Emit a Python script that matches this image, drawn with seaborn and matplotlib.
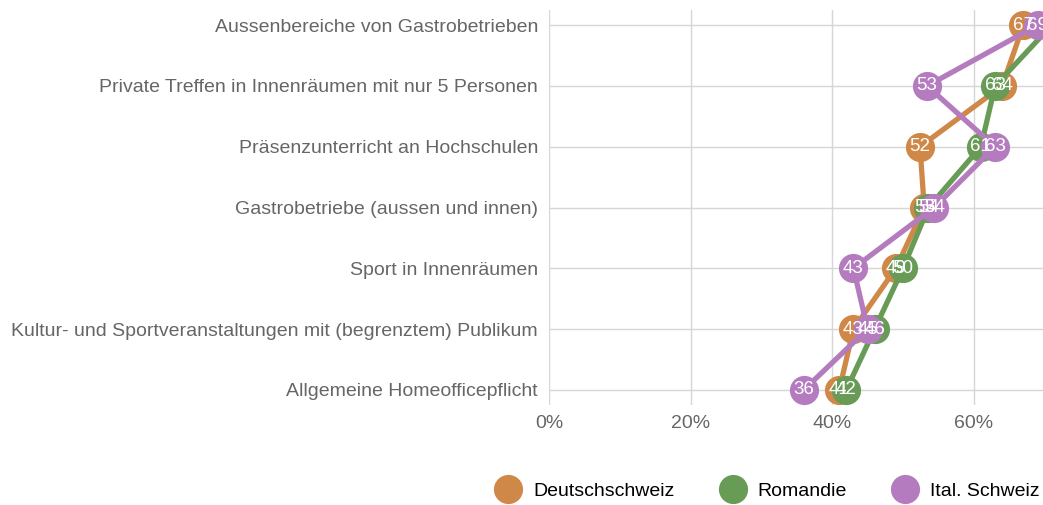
import pandas as pd
import matplotlib.pyplot as plt
from matplotlib.lines import Line2D
import seaborn as sns

# data (share of respondents, %)
categories = ["Aussenbereiche von Gastrobetrieben",
              "Private Treffen in Innenräumen mit nur 5 Personen",
              "Präsenzunterricht an Hochschulen",
              "Gastrobetriebe (aussen und innen)",
              "Sport in Innenräumen",
              "Kultur- und Sportveranstaltungen mit (begrenztem) Publikum",
              "Allgemeine Homeofficepflicht"]
deutschschweiz = [67, 64, 52.4, 53, 49, 43, 41]
romandie = [71, 63, 61, 53.6, 50, 46, 42]
ital_schweiz = [69, 53.4, 63, 54.4, 43, 45, 36]
regions = ["Deutschschweiz", "Romandie", "Ital. Schweiz"]
colors = ["#cf8848", "#689b55", "#b47cbf"]

rows = []
for reg, vals in zip(regions, [deutschschweiz, romandie, ital_schweiz]):
    for i, v in enumerate(vals):
        rows.append({"region": reg, "pos": i, "value": v})
df = pd.DataFrame(rows)

sns.set_theme(style="white")
plt.rcParams['font.family'] = ['Liberation Sans', 'DejaVu Sans']

fig = plt.figure(figsize=(10.43, 5.05), dpi=100)
# axes runs past the right edge like in the cropped original
ax = fig.add_axes([549 / 1043, 1 - 405 / 505, 708 / 1043, 395 / 505])

sns.lineplot(data=df, x="value", y="pos", hue="region", hue_order=regions,
             palette=colors, sort=False, estimator=None, orient="y",
             linewidth=3.8, marker="o", markersize=21, markeredgewidth=0,
             legend=False, ax=ax, zorder=3)

# value labels on top of all markers
for reg, vals in zip(regions, [deutschschweiz, romandie, ital_schweiz]):
    for i, v in enumerate(vals):
        ax.text(v, i, f"{round(v)}", color="white", fontsize=13.5,
                ha="center", va="center", zorder=5)

ax.set_xlim(0, 100)
ax.set_ylim(6.25, -0.25)
ax.set_xticks([0, 20, 40, 60, 80, 100])
ax.set_xticklabels([f"{t}%" for t in [0, 20, 40, 60, 80, 100]])
ax.set_yticks(range(len(categories)))
ax.set_yticklabels(categories)
ax.set_xlabel("")
ax.set_ylabel("")
ax.grid(True, color="#d6d6d6", linewidth=1)
ax.set_axisbelow(True)
for s in ax.spines.values():
    s.set_visible(False)
ax.tick_params(axis="both", length=0, labelsize=14, colors="#666666")
ax.tick_params(axis="y", pad=8)
ax.tick_params(axis="x", pad=7)

handles = [Line2D([], [], marker="o", linestyle="", markersize=21,
                  markerfacecolor=c, markeredgewidth=0) for c in colors]
fig.legend(handles, regions, loc="center left", ncol=3, frameon=False,
           bbox_to_anchor=(494 / 1043, 1 - 491 / 505), fontsize=14,
           handlelength=1.45, handletextpad=0.55, columnspacing=2.27,
           borderaxespad=0, borderpad=0, labelcolor="black")

fig.savefig("out.png", dpi=100)
